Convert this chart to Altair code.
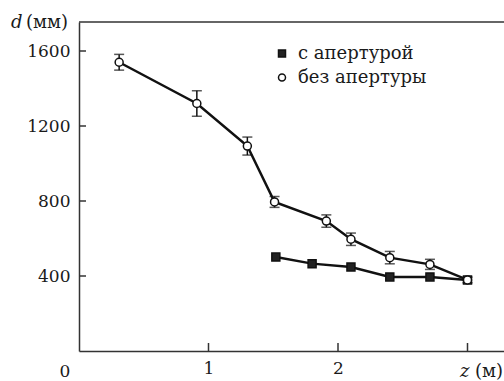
import altair as alt
import pandas as pd

# ---- data ----
z_open = [0.31, 0.91, 1.30, 1.51, 1.91, 2.10, 2.40, 2.71, 3.00]
d_open = [1540, 1320, 1093, 795, 693, 596, 498, 462, 379]
e_open = [42, 68, 48, 29, 33, 33, 33, 27, 15]

z_sq = [1.52, 1.80, 2.10, 2.40, 2.71, 3.00]
d_sq = [501, 466, 448, 395, 395, 379]

s_sq = "с апертурой"
s_open = "без апертуры"

y_ticks = [400, 800, 1200, 1600]
x_ticks = [1, 2, 3]
x_labels = [1, 2]

W, H = 425, 329
FONT = "DejaVu Serif"
FS_TICK = 17
FS = 18
AX = "#333333"
INK = "#111111"
TXT = "#1a1a1a"

pts = pd.DataFrame(
    {"z": z_sq + z_open,
     "d": d_sq + d_open,
     "s": [s_sq] * len(z_sq) + [s_open] * len(z_open),
     "o": list(range(len(z_sq))) + list(range(len(z_open)))}
)
err = pd.DataFrame({"z": z_open, "lo": [d - e for d, e in zip(d_open, e_open)],
                    "hi": [d + e for d, e in zip(d_open, e_open)]})
errcap = pd.DataFrame({"z": z_open * 2,
                       "d": [d - e for d, e in zip(d_open, e_open)] + [d + e for d, e in zip(d_open, e_open)]})

xs = alt.Scale(domain=[0, W / 129.5], nice=False, zero=False)
ys = alt.Scale(domain=[0, H / 75 * 400], nice=False, zero=False)

X = alt.X("z:Q", scale=xs,
          axis=alt.Axis(values=x_labels, title=None, grid=False, ticks=False,
                        domainColor=AX, domainWidth=1.5, labelFont=FONT, labelFontSize=FS_TICK,
                        labelColor=TXT, labelPadding=9, labelBaseline="top", format="d"))
Y = alt.Y("d:Q", scale=ys,
          axis=alt.Axis(values=y_ticks, title=None, grid=False, ticks=False,
                        domainColor=AX, domainWidth=1.5, labelFont=FONT, labelFontSize=FS_TICK,
                        labelColor=TXT, labelPadding=9, format="d"))

lines = alt.Chart(pts).mark_line(color=INK, strokeWidth=2.5).encode(
    x=X, y=Y, detail="s:N", order="o:Q")

bars = alt.Chart(err).mark_rule(color=INK, strokeWidth=1.5).encode(
    x=alt.X("z:Q", scale=xs), y=alt.Y("lo:Q", scale=ys), y2="hi:Q")
caps = alt.Chart(errcap).mark_tick(color=INK, thickness=1.5, size=10, orient="horizontal").encode(
    x=alt.X("z:Q", scale=xs), y=alt.Y("d:Q", scale=ys))

dom = [s_sq, s_open]
points = alt.Chart(pts).mark_point(filled=False, strokeWidth=1.5, size=64, opacity=1).encode(
    x=alt.X("z:Q", scale=xs), y=alt.Y("d:Q", scale=ys),
    shape=alt.Shape("s:N", scale=alt.Scale(domain=dom, range=["square", "circle"]),
                    legend=alt.Legend(title=None)),
    fill=alt.Fill("s:N", scale=alt.Scale(domain=dom, range=["#222222", "#ffffff"]),
                  legend=alt.Legend(title=None)),
    stroke=alt.Stroke("s:N", scale=alt.Scale(domain=dom, range=[INK, INK]),
                      legend=alt.Legend(title=None)),
)

ytk = alt.Chart(pd.DataFrame({"d": y_ticks})).mark_rule(color=AX, strokeWidth=1.5).encode(
    y=alt.Y("d:Q", scale=ys), x=alt.value(0), x2=alt.value(7))
xtk = alt.Chart(pd.DataFrame({"z": x_ticks})).mark_rule(color=AX, strokeWidth=1.5).encode(
    x=alt.X("z:Q", scale=xs), y=alt.value(H), y2=alt.value(H - 8))
top = alt.Chart(pd.DataFrame({"a": [0]})).mark_rule(color=AX, strokeWidth=1.5).encode(
    x=alt.value(0), x2=alt.value(W), y=alt.value(0))

def txt(s, x, y, align="left", style="normal", fs=FS):
    return alt.Chart(pd.DataFrame({"t": [s]})).mark_text(
        font=FONT, fontSize=fs, color=TXT, align=align, baseline="alphabetic",
        fontStyle=style).encode(text="t:N", x=alt.value(x), y=alt.value(y))

labels = [
    txt("d", -68, 6, style="italic"),
    txt("(мм)", -11, 6, align="right"),
    txt("0", -14, H + 26, align="center", fs=FS_TICK),
    txt("z", 381, H + 26, style="italic"),
    txt("(м)", 396, H + 26),
]

chart = alt.layer(top, ytk, xtk, lines, bars, caps, points, *labels).properties(
    width=W, height=H,
    autosize=alt.AutoSizeParams(type="none"),
    padding={"left": 79, "top": 22, "right": 0, "bottom": 30},
).configure_view(stroke=None).configure_legend(
    orient="none", legendX=194, legendY=22.5, padding=0, rowPadding=6,
    labelFont=FONT, labelFontSize=FS, labelColor=TXT, labelOffset=7,
    symbolSize=49, symbolStrokeWidth=1.5,
)

chart.save("out.html", embed_options={"renderer": "svg", "actions": False})
